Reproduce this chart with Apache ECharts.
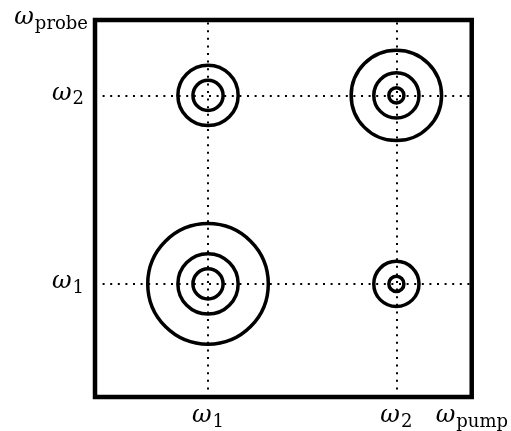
<!DOCTYPE html>
<html>
<head>
<meta charset="utf-8">
<script src="https://cdn.jsdelivr.net/npm/echarts@6/dist/echarts.min.js"></script>
<style>
  html, body { margin: 0; padding: 0; background: #fff; }
  #chart { width: 511px; height: 431px; }
</style>
</head>
<body>
<div id="chart"></div>
<script>
// Resonance frequencies marked on both axes (fraction of the axis span)
const resonances = [0.3, 0.8];
const resonanceSubscripts = ['1', '2'];

// Cross-peak positions (pump, probe) and the radii of their contour rings
const peakPump  = [0.3, 0.8, 0.3, 0.8];
const peakProbe = [0.8, 0.8, 0.3, 0.3];
const peakRings = [
  [0.04, 0.08],
  [0.02, 0.06, 0.12],
  [0.04, 0.08, 0.16],
  [0.02, 0.06]
];

const serif = '"DejaVu Serif", "Liberation Serif", serif';
// ω in italic, subscript upright, smaller and dropped below the baseline
const richText = {
  w: { fontFamily: serif, fontStyle: 'italic', fontSize: 24, color: '#000', verticalAlign: 'bottom', lineHeight: 26, padding: [0, 0, 3, 0] },
  s: { fontFamily: serif, fontSize: 18, color: '#000', verticalAlign: 'bottom', lineHeight: 26, padding: [0, 0, 0, 1] }
};
const omega = sub => '{w|ω}{s|' + sub + '}';

const peakData = peakPump.map((x, i) => [x, peakProbe[i], i]);

const dotted = { color: '#000', width: 2, type: [2, 5.6], cap: 'butt' };
const guideLines = [];
resonances.forEach(v => {
  guideLines.push({ xAxis: v });
  guideLines.push({ yAxis: v });
});

const chart = echarts.init(document.getElementById('chart'), null, { renderer: 'canvas' });
chart.setOption({
  animation: false,
  grid: {
    left: 95, top: 20, width: 377, height: 377,
    show: true, borderColor: '#000', borderWidth: 4.5, backgroundColor: 'transparent'
  },
  xAxis: {
    type: 'value', min: 0, max: 1,
    axisLine: { show: false }, axisTick: { show: false }, splitLine: { show: false },
    axisLabel: {
      customValues: resonances,
      margin: 8,
      formatter: v => omega(resonanceSubscripts[resonances.indexOf(v)]),
      rich: richText
    },
    name: omega('pump'),
    nameLocation: 'end',
    nameGap: -36,
    nameTextStyle: { align: 'left', verticalAlign: 'top', padding: [8, 0, 0, 0], rich: richText }
  },
  yAxis: {
    type: 'value', min: 0, max: 1,
    axisLine: { show: false }, axisTick: { show: false }, splitLine: { show: false },
    axisLabel: {
      customValues: resonances,
      margin: 11,
      formatter: v => omega(resonanceSubscripts[resonances.indexOf(v)]),
      rich: richText
    },
    name: omega('probe'),
    nameLocation: 'end',
    nameGap: 0,
    nameTextStyle: { align: 'right', verticalAlign: 'middle', padding: [0, 7, 0, 0], rich: richText }
  },
  series: [{
    type: 'custom',
    data: peakData,
    clip: false,
    renderItem: (params, api) => {
      const c = api.coord([api.value(0), api.value(1)]);
      const rings = peakRings[api.value(2)];
      return {
        type: 'group',
        children: rings.map(r => ({
          type: 'circle',
          shape: { cx: c[0], cy: c[1], r: api.size([r, 0])[0] },
          style: { fill: null, stroke: '#000', lineWidth: 3.5 }
        }))
      };
    },
    markLine: {
      silent: true,
      symbol: ['none', 'none'],
      label: { show: false },
      lineStyle: dotted,
      emphasis: { disabled: true },
      data: guideLines,
      z: 1
    },
    z: 3
  }]
});
</script>
</body>
</html>
